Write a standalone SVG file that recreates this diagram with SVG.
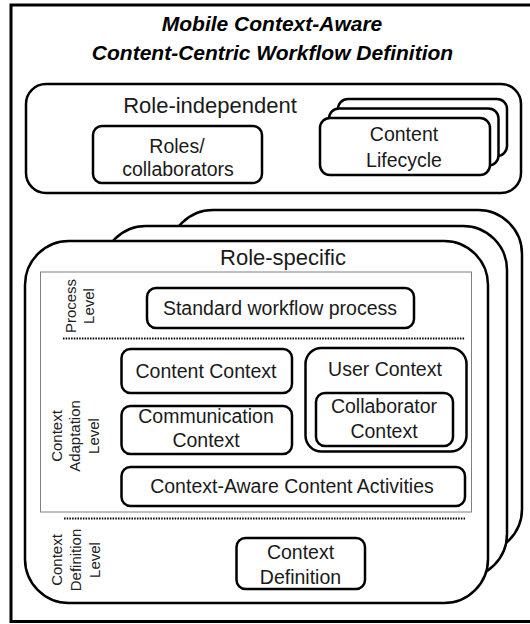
<svg xmlns="http://www.w3.org/2000/svg" width="530" height="624" viewBox="0 0 530 624">
  <style>
    .frame { fill: #fff; stroke: #000; stroke-width: 3; }
    .box { fill: #fff; stroke: #000; stroke-width: 2.5; }
    .area { fill: none; stroke: #7f7f7f; stroke-width: 1; }
    .sep { stroke: #000; stroke-width: 2; stroke-dasharray: 1.5 1.2; fill: none; }
    .t { font-family: "Liberation Sans", Arial, sans-serif; font-size: 19.5px; text-anchor: middle; fill: #1a1a1a; }
    .big { font-size: 22px; }
    .title { font-size: 21px; font-weight: bold; font-style: italic; fill: #000; }
    .lbl { font-size: 15px; fill: #222; }
  </style>

  <rect id="frame" class="frame" x="11" y="5" width="540" height="616.5"/>

  <g id="title">
    <text class="t title" x="272" y="31">Mobile Context-Aware</text>
    <text class="t title" x="272.5" y="59.5">Content-Centric Workflow Definition</text>
  </g>

  <g id="role-independent">
    <rect class="box" x="26" y="84" width="495" height="109" rx="20"/>
    <text class="t big" x="210" y="113">Role-independent</text>
  </g>

  <g id="roles-collaborators">
    <rect class="box" x="93" y="126" width="169" height="57" rx="9"/>
    <text class="t" x="177" y="153">Roles/</text>
    <text class="t" x="178" y="176">collaborators</text>
  </g>

  <g id="content-lifecycle">
    <rect class="box" x="338" y="99" width="169" height="57" rx="10"/>
    <rect class="box" x="329" y="108.5" width="169.5" height="57" rx="10"/>
    <rect class="box" x="320" y="118" width="170" height="57" rx="10"/>
    <text class="t" x="404" y="141">Content</text>
    <text class="t" x="404" y="167">Lifecycle</text>
  </g>

  <g id="role-specific">
    <rect class="box" x="169" y="210" width="353" height="343" rx="44"/>
    <rect class="box" x="102" y="226" width="405" height="352" rx="44"/>
    <rect class="box" x="25" y="241" width="463" height="362" rx="44"/>
    <text class="t big" x="283" y="265">Role-specific</text>
    <rect class="area" x="40.5" y="272" width="431" height="240"/>
  </g>

  <g id="process-level-label">
    <text class="t lbl" transform="translate(75.5,306) rotate(-90)">Process</text>
    <text class="t lbl" transform="translate(94,306) rotate(-90)">Level</text>
  </g>

  <g id="standard-workflow-process">
    <rect class="box" x="147" y="288" width="267" height="40" rx="9"/>
    <text class="t" x="280" y="315">Standard workflow process</text>
  </g>

  <g id="separators">
    <line class="sep" x1="63" y1="338.5" x2="465" y2="338.5"/>
    <line class="sep" x1="64" y1="518.5" x2="465" y2="518.5"/>
  </g>

  <g id="context-adaptation-label">
    <text class="t lbl" transform="translate(61.5,436) rotate(-90)">Context</text>
    <text class="t lbl" transform="translate(80,436) rotate(-90)">Adaptation</text>
    <text class="t lbl" transform="translate(98.5,436) rotate(-90)">Level</text>
  </g>

  <g id="content-context">
    <rect class="box" x="121.5" y="349" width="170.5" height="44" rx="9"/>
    <text class="t" x="206" y="378">Content Context</text>
  </g>

  <g id="user-context">
    <rect class="box" x="305.5" y="348" width="161" height="103.5" rx="16"/>
    <text class="t" x="385" y="376">User Context</text>
  </g>

  <g id="collaborator-context">
    <rect class="box" x="316" y="393" width="137" height="53" rx="9"/>
    <text class="t" x="384" y="413">Collaborator</text>
    <text class="t" x="384" y="438">Context</text>
  </g>

  <g id="communication-context">
    <rect class="box" x="121.5" y="406" width="170.5" height="48" rx="9"/>
    <text class="t" x="206" y="423">Communication</text>
    <text class="t" x="206" y="447">Context</text>
  </g>

  <g id="context-aware-content-activities">
    <rect class="box" x="121.5" y="467" width="343.5" height="39" rx="9"/>
    <text class="t" x="292" y="493">Context-Aware Content Activities</text>
  </g>

  <g id="context-definition-label">
    <text class="t lbl" transform="translate(62,560) rotate(-90)">Context</text>
    <text class="t lbl" transform="translate(81,560) rotate(-90)">Definition</text>
    <text class="t lbl" transform="translate(99.5,560) rotate(-90)">Level</text>
  </g>

  <g id="context-definition">
    <rect class="box" x="236.5" y="538" width="128.5" height="51" rx="9"/>
    <text class="t" x="300.5" y="559">Context</text>
    <text class="t" x="300.5" y="584">Definition</text>
  </g>
</svg>
